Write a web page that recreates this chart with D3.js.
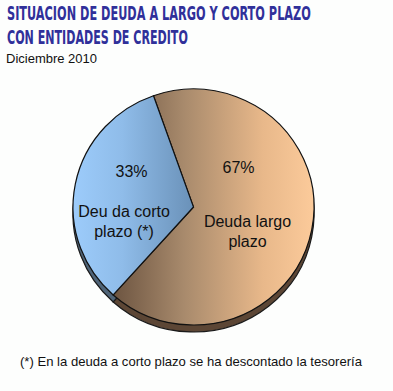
<!DOCTYPE html>
<html><head><meta charset="utf-8">
<script src="https://cdn.jsdelivr.net/npm/d3@7"></script>
<style>body{margin:0;background:#fdfefd}svg{display:block}</style>
</head><body>
<script>
const categories = ["Deuda largo plazo", "Deuda corto plazo (*)"];
const values = [67, 33];
const pctLabels = ["67%", "33%"];
const labelLines = [["Deuda largo", "plazo"], ["Deu da corto", "plazo (*)"]];
const titleLines = ["SITUACION DE DEUDA A LARGO Y CORTO PLAZO", "CON ENTIDADES DE CREDITO"];
const subtitle = "Diciembre 2010";
const footnote = "(*) En la deuda a corto plazo se ha descontado la tesorería";

const W = 393, H = 391;
const svg = d3.select("body").append("svg").attr("width", W).attr("height", H);
svg.append("rect").attr("width", W).attr("height", H).attr("fill", "#fdfefd");

// titles: fit width by font size, then stretch vertically to the reference cap height
const titleLens = [304, 181];
const titleY = [19.5, 43.5];
titleLines.forEach((t, i) => {
  const tx = svg.append("text").text(t)
    .attr("font-family", "DejaVu Sans Condensed, DejaVu Sans, sans-serif").attr("font-weight", "bold")
    .attr("font-size", 19).attr("fill", "#30309a");
  const len = tx.node().getComputedTextLength();
  const fs = 19 * titleLens[i] / len;
  tx.attr("font-size", fs)
    .attr("transform", `translate(7,${titleY[i]}) scale(1,${14 / (0.73 * fs)})`);
});
svg.append("text").attr("x", 6).attr("y", 63).text(subtitle)
  .attr("font-family", "Liberation Sans, Arial, sans-serif").attr("font-size", 13).attr("fill", "#111")
  .attr("textLength", 91).attr("lengthAdjust", "spacingAndGlyphs");

// pie
const cx = 193.5, cy = 207, rx = 120.5, ry = 118, depth = 7;
const defs = svg.append("defs");
const g1 = defs.append("linearGradient").attr("id", "gBrown").attr("gradientUnits", "userSpaceOnUse")
  .attr("x1", 115 - cx).attr("x2", 312 - cx).attr("y1", 0).attr("y2", 0);
g1.append("stop").attr("offset", 0).attr("stop-color", "#6e5642");
g1.append("stop").attr("offset", 0.35).attr("stop-color", "#a88a6c");
g1.append("stop").attr("offset", 0.75).attr("stop-color", "#e8b88a");
g1.append("stop").attr("offset", 1).attr("stop-color", "#fbca9a");
const g2 = defs.append("linearGradient").attr("id", "gBlue").attr("gradientUnits", "userSpaceOnUse")
  .attr("x1", 75 - cx).attr("x2", 0).attr("y1", 0).attr("y2", 0);
g2.append("stop").attr("offset", 0).attr("stop-color", "#9ccbfa");
g2.append("stop").attr("offset", 0.4).attr("stop-color", "#8fbce9");
g2.append("stop").attr("offset", 1).attr("stop-color", "#6a91b8");

const pie = d3.pie().sort(null).startAngle(-19.4 * Math.PI / 180).endAngle((360 - 19.4) * Math.PI / 180);
const arcs = pie(values);
const arc = d3.arc().innerRadius(0).outerRadius(rx);
const fills = ["url(#gBrown)", "url(#gBlue)"];
const sideFills = ["#5c4635", "#4f6478"];

const pieG = svg.append("g");
pieG.selectAll("path.side").data(arcs).join("path").attr("class", "side")
  .attr("transform", `translate(${cx},${cy + depth}) scale(1,${ry / rx})`)
  .attr("d", arc).attr("fill", (d, i) => sideFills[i]).attr("stroke", "#1a1a1a").attr("stroke-width", 1.2)
  .attr("vector-effect", "non-scaling-stroke");
pieG.selectAll("path.top").data(arcs).join("path").attr("class", "top")
  .attr("transform", `translate(${cx},${cy}) scale(1,${ry / rx})`)
  .attr("d", arc).attr("fill", (d, i) => fills[i]).attr("stroke", "#111").attr("stroke-width", 1.2)
  .attr("vector-effect", "non-scaling-stroke");

// labels
const pctPos = [[238.5, 173], [131.5, 177]];
const labPos = [[247.5, 227], [124, 217]];
const lab = svg.append("g").attr("font-family", "Liberation Sans, Arial, sans-serif").attr("font-size", 16)
  .attr("fill", "#111").attr("text-anchor", "middle");
arcs.forEach((a, i) => {
  lab.append("text").attr("x", pctPos[i][0]).attr("y", pctPos[i][1]).text(pctLabels[i]);
  labelLines[i].forEach((t, j) => {
    lab.append("text").attr("x", labPos[i][0]).attr("y", labPos[i][1] + j * 19.5).text(t);
  });
});

svg.append("text").attr("x", 20).attr("y", 366).text(footnote)
  .attr("font-family", "Liberation Sans, Arial, sans-serif").attr("font-size", 13).attr("fill", "#111")
  .attr("textLength", 342).attr("lengthAdjust", "spacingAndGlyphs");
</script>
</body></html>
